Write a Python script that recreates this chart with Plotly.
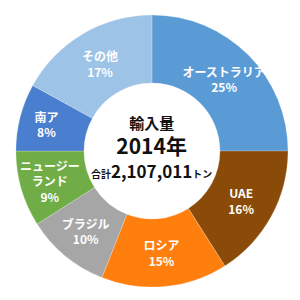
import plotly.graph_objects as go

labels = ["オーストラリア", "UAE", "ロシア", "ブラジル", "ニュージーランド", "南ア", "その他"]
display_names = ["オーストラリア", "UAE", "ロシア", "ブラジル", "ニュージー<br>ランド", "南ア", "その他"]
shares = [25, 16, 15, 10, 9, 8, 17]
colors = ["#5b9bd5", "#8a4b08", "#ff7f0e", "#a6a6a6", "#70ad47", "#4a7fcf", "#9dc3e6"]

total_text = "2,107,011"
year_text = "2014年"

texts = [f"{n}<br>{v}%" for n, v in zip(display_names, shares)]

fig = go.Figure(go.Pie(
    labels=labels,
    values=shares,
    text=texts,
    textinfo="text",
    hole=0.5,
    sort=False,
    direction="clockwise",
    rotation=0,
    marker=dict(colors=colors, line=dict(color="rgba(255,255,255,0.4)", width=0.5)),
    textposition="inside",
    insidetextorientation="horizontal",
    textfont=dict(family="Noto Sans CJK JP", size=12, color="white", weight="bold"),
    showlegend=False,
    domain=dict(x=[0.053, 0.96], y=[0.043, 0.95]),
))

font = "Noto Sans CJK JP"
fig.add_annotation(
    x=0.505, y=1 - 147 / 300, xref="paper", yref="paper", showarrow=False,
    text=("<b><span style='font-size:15px'>輸入量</span><br>"
          f"<span style='font-size:21px'>{year_text}</span><br>"
          f"<span style='font-size:10px'>合計</span><span style='font-size:17px'>{total_text}</span>"
          "<span style='font-size:10px'>トン</span></b>"),
    font=dict(family=font, size=19, color="#111"),
)

fig.update_layout(width=300, height=300, margin=dict(l=0, r=0, t=0, b=0),
                  paper_bgcolor="white", plot_bgcolor="white",
                  uniformtext=dict(minsize=12, mode="show"))
fig.write_html("out.html")
